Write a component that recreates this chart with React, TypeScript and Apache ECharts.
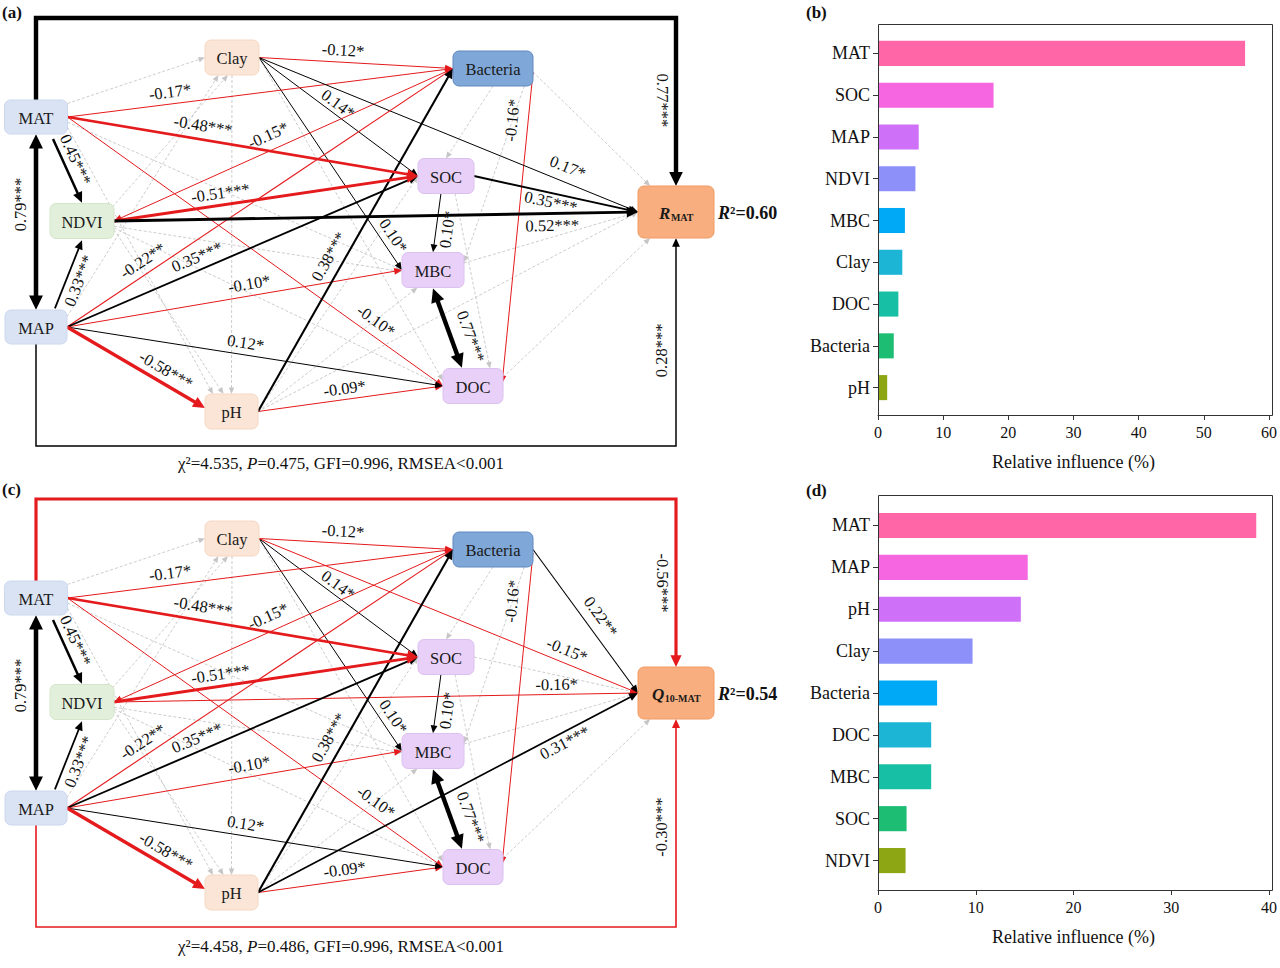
import React, { useEffect, useRef } from 'react';
import * as echarts from 'echarts';

const FONT = "'Times New Roman', 'Liberation Serif', 'DejaVu Serif', serif";

// ---------------- Relative influence (panels b, d) ----------------
const factorsB = ['MAT', 'SOC', 'MAP', 'NDVI', 'MBC', 'Clay', 'DOC', 'Bacteria', 'pH'];
const influenceB = [55.9, 17.6, 6.2, 5.7, 4.1, 3.7, 3.1, 2.4, 1.4];
const factorsD = ['MAT', 'MAP', 'pH', 'Clay', 'Bacteria', 'DOC', 'MBC', 'SOC', 'NDVI'];
const influenceD = [38.4, 15.2, 14.5, 9.6, 6.0, 5.4, 5.4, 2.9, 2.8];
const axisMaxB = 60;
const axisMaxD = 40;
const axisStep = 10;
const influenceAxisName = 'Relative influence (%)';

// ---------------- SEM path coefficients (panels a, c) ----------------
type Path = [string, string, number, string];
const sharedPaths: Path[] = [
  ['MAT', 'MAP', 0.79, '***'],
  ['MAT', 'NDVI', 0.45, '***'],
  ['MAP', 'NDVI', 0.33, '***'],
  ['Clay', 'Bacteria', -0.12, '*'],
  ['MAT', 'Bacteria', -0.17, '*'],
  ['MAT', 'SOC', -0.48, '***'],
  ['Bacteria', 'NDVI', -0.15, '*'],
  ['NDVI', 'SOC', -0.51, '***'],
  ['Clay', 'SOC', 0.14, '*'],
  ['Clay', 'MBC', 0.1, '*'],
  ['MAP', 'SOC', 0.35, '***'],
  ['MAP', 'Bacteria', -0.22, '**'],
  ['pH', 'Bacteria', 0.38, '***'],
  ['SOC', 'MBC', 0.1, '*'],
  ['Bacteria', 'DOC', -0.16, '*'],
  ['MAP', 'DOC', 0.12, '*'],
  ['MAP', 'MBC', -0.1, '*'],
  ['MAP', 'pH', -0.58, '***'],
  ['pH', 'DOC', -0.09, '*'],
  ['MAT', 'DOC', -0.1, '*'],
  ['MBC', 'DOC', 0.77, '***'],
];
const responsePathsA: Path[] = [
  ['MAT', 'RESP', 0.77, '***'],
  ['MAP', 'RESP', 0.28, '***'],
  ['Clay', 'RESP', 0.17, '*'],
  ['SOC', 'RESP', 0.35, '***'],
  ['NDVI', 'RESP', 0.52, '***'],
];
const responsePathsC: Path[] = [
  ['MAT', 'RESP', -0.56, '***'],
  ['MAP', 'RESP', -0.3, '***'],
  ['Clay', 'RESP', -0.15, '*'],
  ['NDVI', 'RESP', -0.16, '*'],
  ['pH', 'RESP', 0.31, '***'],
  ['Bacteria', 'RESP', 0.22, '**'],
];
const nsSharedPaths: [string, string][] = [
  ['MAT', 'Clay'], ['NDVI', 'Clay'], ['MAP', 'Clay'], ['Clay', 'pH'],
  ['MAT', 'pH'], ['NDVI', 'pH'], ['MAT', 'MBC'], ['NDVI', 'MBC'],
  ['NDVI', 'DOC'], ['Clay', 'DOC'], ['pH', 'SOC'], ['pH', 'MBC'],
  ['Bacteria', 'SOC'], ['Bacteria', 'MBC'], ['SOC', 'DOC'],
];
const nsResponseA = ['Bacteria', 'MBC', 'DOC', 'pH'];
const nsResponseC = ['SOC', 'MBC', 'DOC'];
const r2A = 0.6;
const r2C = 0.54;
const fitA = [4.535, 0.475, 0.996];
const fitC = [4.458, 0.486, 0.996];
const rmseaText = '<0.001';
const respSymbolA = ['R', 'MAT'];
const respSymbolC = ['Q', '10-MAT'];
const nodeIds = ['MAT', 'NDVI', 'MAP', 'Clay', 'pH', 'Bacteria', 'SOC', 'MBC', 'DOC', 'RESP'];

// ---------------- layout (diagram coordinates, one unit = 1px) ----------------
const nodeBox: Record<string, [number, number, number, number]> = {
  MAT: [36, 117, 63, 34],
  NDVI: [82, 221, 64, 35],
  MAP: [36, 327, 62, 34],
  Clay: [232, 57.5, 54, 35],
  pH: [231.5, 411.5, 53, 35],
  Bacteria: [493, 68.5, 80, 35],
  SOC: [446, 176, 56, 35],
  MBC: [433, 270, 62, 35],
  DOC: [473, 386, 60, 35],
  RESP: [676, 212, 76, 52],
};
const nodeFill: Record<string, [string, string]> = {
  MAT: ['#DAE3F3', '#CCD8EE'], MAP: ['#DAE3F3', '#CCD8EE'],
  NDVI: ['#E2EFDA', '#D4E6C9'],
  Clay: ['#FBE5D6', '#F6D7C2'], pH: ['#FBE5D6', '#F6D7C2'],
  Bacteria: ['#7FA7D7', '#6089BF'],
  SOC: ['#E9D0F8', '#DCC0F0'], MBC: ['#E9D0F8', '#DCC0F0'], DOC: ['#E9D0F8', '#DCC0F0'],
  RESP: ['#F8AE7E', '#F19A62'],
};
const anchors: Record<string, [number, number, number, number]> = {
  'MAT>MAP': [0, 1.02, 0, -1.02],
  'MAT>NDVI': [0.54, 1.3, 0, -1.05],
  'MAP>NDVI': [0.61, -1.1, 0, 1.1],
  'SOC>MBC': [-0.18, 1, 0, -1.02],
  'MBC>DOC': [0, 1.05, -0.37, -1.05],
  'Bacteria>DOC': [1, 0.2, 0.97, -0.15],
  'Bacteria>NDVI': [-1, 0, 1, 0],
  'MAP>pH': [1, 0, -1, -0.2],
  'Clay>pH': [0, 1, 0, -1],
  'Bacteria>SOC': [0, 1, 0, -1],
  'Bacteria>MBC': [0.78, 1, 1, -0.45],
  'SOC>DOC': [0.32, 1, 0.57, -1],
  'MBC>RESP': [1, -0.4, -1, 0],
  'DOC>RESP': [1, -0.5, -0.68, 1],
  'MAT>Clay': [1, -0.8, -1, 0],
  'NDVI>Clay': [0.95, -0.8, -0.15, 1],
  'MAP>Clay': [1, -0.6, -0.5, 1],
  'MAT>pH': [1, 0.6, -0.7, -1],
  'NDVI>pH': [1, 0.5, -0.3, -1],
  'pH>MBC': [1, 0, -0.5, 1],
  'MAT>MBC': [1, 0.3, -1, 0],
  'NDVI>MBC': [1, 0.3, -1, 0.1],
  'NDVI>DOC': [1, 0.4, -1, 0],
  'Clay>DOC': [1, 0, -1, -0.3],
};
const anchorsA: Record<string, [number, number, number, number]> = {
  'Bacteria>RESP': [1, 0.2, -0.68, -1],
};
const anchorsC: Record<string, [number, number, number, number]> = {};
const frameRoutes: Record<string, { y: number; side: 'top' | 'bottom' }> = {
  'MAT>RESP': { y: 18, side: 'top' },
  'MAP>RESP': { y: 446, side: 'bottom' },
};
const doubleHeaded = ['MAT>MAP', 'MBC>DOC'];
const labelPlace: Record<string, [number, number]> = {
  'MAT>MAP': [0.4, 16],
  'MAT>NDVI': [0.4, 12],
  'MAP>NDVI': [0.47, -12],
  'Clay>Bacteria': [0.43, 12],
  'MAT>Bacteria': [0.27, 12],
  'MAT>SOC': [0.38, 14],
  'Bacteria>NDVI': [0.527, 15],
  'NDVI>SOC': [0.356, 12],
  'Clay>SOC': [0.46, 10],
  'Clay>MBC': [0.87, 12],
  'MAP>SOC': [0.385, 13],
  'MAP>Bacteria': [0.215, 13],
  'pH>Bacteria': [0.43, 15],
  'SOC>MBC': [0.59, -11],
  'Bacteria>DOC': [0.16, 16],
  'MAP>DOC': [0.47, 12],
  'MAP>MBC': [0.55, 12],
  'MAP>pH': [0.67, 13],
  'pH>DOC': [0.476, 11],
  'MAT>DOC': [0.8, 14],
  'MBC>DOC': [0.69, 19],
};
const labelPlaceA: Record<string, [number, number]> = {
  'MAT>RESP': [0.49, 14],
  'MAP>RESP': [0.46, 15],
  'Clay>RESP': [0.8, 15],
  'SOC>RESP': [0.48, -9],
  'NDVI>RESP': [0.836, -12],
};
const labelPlaceC: Record<string, [number, number]> = {
  'MAT>RESP': [0.5, 14],
  'MAP>RESP': [0.48, 15],
  'Clay>RESP': [0.8, 13],
  'NDVI>RESP': [0.845, 10],
  'pH>RESP': [0.795, -10],
  'Bacteria>RESP': [0.53, 15],
};
const RED = '#E41A1C';
const BLACK = '#000000';
const GREY = '#C6C6C6';
const rankColors = ['#FF66A8', '#F666E0', '#CF70F8', '#8C90F8', '#00A9F6', '#1CB5D5', '#17BFA5', '#1DBE74', '#8DA614'];

type Edge = { from: string; to: string; coef: number | null; sig: string };

function buildEdges(resp: Path[], nsResp: string[]): Edge[] {
  const list: Edge[] = [];
  nsSharedPaths.forEach(([f, t]) => list.push({ from: f, to: t, coef: null, sig: '' }));
  nsResp.forEach((f) => list.push({ from: f, to: 'RESP', coef: null, sig: '' }));
  [...sharedPaths, ...resp].forEach(([f, t, c, s]) => list.push({ from: f, to: t, coef: c, sig: s }));
  const wOf = (e: Edge) => (e.coef === null ? 0 : Math.abs(e.coef));
  return list.sort((a, b) => wOf(a) - wOf(b));
}

const edgesA = buildEdges(responsePathsA, nsResponseA);
const edgesC = buildEdges(responsePathsC, nsResponseC);

function anchorPoint(id: string, fx: number, fy: number): [number, number] {
  const [cx, cy, w, h] = nodeBox[id];
  return [cx + (fx * w) / 2, cy + (fy * h) / 2];
}

function arrowHead(tip: number[], u: number[], L: number, W: number, color: string, z2: number) {
  const bx = tip[0] - u[0] * L;
  const by = tip[1] - u[1] * L;
  return {
    type: 'polygon',
    z2,
    shape: { points: [[tip[0], tip[1]], [bx - u[1] * W, by + u[0] * W], [bx + u[1] * W, by - u[0] * W]] },
    style: { fill: color },
  };
}

function unit(a: number[], b: number[]) {
  const dx = b[0] - a[0];
  const dy = b[1] - a[1];
  const l = Math.hypot(dx, dy) || 1;
  return [dx / l, dy / l];
}

function makeEdgeRender(edges: Edge[], anchorOverride: Record<string, [number, number, number, number]>, labels: Record<string, [number, number]>) {
  return (params: any, api: any) => {
    const e = edges[params.dataIndex];
    const key = e.from + '>' + e.to;
    const ns = e.coef === null;
    const color = ns ? GREY : (e.coef as number) < 0 ? RED : BLACK;
    const w = ns ? 0.9 : Math.max(1, 6 * Math.abs(e.coef as number) - 0.2);
    const z2 = ns ? 1 : 10 + w;
    const frame = frameRoutes[key];
    let pts: [number, number][];
    if (frame) {
      const a = nodeBox[e.from];
      const b = nodeBox[e.to];
      const sy = frame.side === 'top' ? a[1] - a[3] / 2 : a[1] + a[3] / 2;
      const ey = frame.side === 'top' ? b[1] - b[3] / 2 : b[1] + b[3] / 2;
      pts = [[a[0], sy], [a[0], frame.y], [b[0], frame.y], [b[0], ey]];
    } else {
      const an = anchorOverride[key] || anchors[key] || [1, 0, -1, 0];
      pts = [anchorPoint(e.from, an[0], an[1]), anchorPoint(e.to, an[2], an[3])];
    }
    const P: number[][] = pts.map((p) => api.coord(p));
    const n = P.length;
    const L = ns ? 6.5 : 6 + 1.8 * w;
    const W = ns ? 2.8 : 2.4 + 1.0 * w;
    const line = P.map((p) => [p[0], p[1]]);
    const children: any[] = [];
    const endDir = unit(P[n - 2], P[n - 1]);
    line[n - 1] = [P[n - 1][0] - endDir[0] * L * 0.7, P[n - 1][1] - endDir[1] * L * 0.7];
    children.push(arrowHead(P[n - 1], endDir, L, W, color, z2));
    if (doubleHeaded.indexOf(key) >= 0) {
      const sd = unit(P[1], P[0]);
      line[0] = [P[0][0] - sd[0] * L * 0.7, P[0][1] - sd[1] * L * 0.7];
      children.push(arrowHead(P[0], sd, L, W, color, z2));
    }
    children.push({
      type: 'polyline',
      z2,
      shape: { points: line },
      style: { stroke: color, lineWidth: w, fill: 'none', lineDash: ns ? [3, 2] : null, lineJoin: 'miter' },
    });
    if (!ns) {
      const lp = labels[key] || [0.5, 12];
      let lx: number;
      let ly: number;
      let rot: number;
      if (frame) {
        const a = P[n - 2];
        const b = P[n - 1];
        lx = a[0] - lp[1];
        ly = a[1] + (b[1] - a[1]) * lp[0];
        rot = frame.side === 'top' ? -Math.PI / 2 : Math.PI / 2;
      } else {
        const a = P[0];
        const b = P[1];
        const dx = b[0] - a[0];
        const dy = b[1] - a[1];
        const len = Math.hypot(dx, dy) || 1;
        let ux = dx / len;
        let uy = dy / len;
        const mx = a[0] + dx * lp[0];
        const my = a[1] + dy * lp[0];
        if (ux < -1e-6 || (Math.abs(ux) <= 1e-6 && uy > 0)) {
          ux = -ux;
          uy = -uy;
        }
        lx = mx + uy * lp[1];
        ly = my - ux * lp[1];
        rot = -Math.atan2(uy, ux);
      }
      children.push({
        type: 'text',
        z2: 300,
        x: lx,
        y: ly,
        rotation: rot,
        style: {
          text: (e.coef as number).toFixed(2) + e.sig,
          fontSize: 16.5,
          fontFamily: FONT,
          fill: '#111111',
          align: 'center',
          verticalAlign: 'middle',
        },
      });
    }
    return { type: 'group', children };
  };
}

let measureCtx: CanvasRenderingContext2D | null = null;
function measure(text: string, font: string) {
  if (!measureCtx) measureCtx = document.createElement('canvas').getContext('2d');
  if (!measureCtx) return text.length * 8;
  measureCtx.font = font;
  return measureCtx.measureText(text).width;
}

function makeNodeRender(sym: string[], r2: number) {
  return (params: any, api: any) => {
    const id = nodeIds[params.dataIndex];
    const [cx, cy, w, h] = nodeBox[id];
    const tl = api.coord([cx - w / 2, cy - h / 2]);
    const br = api.coord([cx + w / 2, cy + h / 2]);
    const c = api.coord([cx, cy]);
    const [fill, stroke] = nodeFill[id];
    const children: any[] = [
      {
        type: 'rect',
        shape: { x: tl[0], y: tl[1], width: br[0] - tl[0], height: br[1] - tl[1], r: 6 },
        style: { fill, stroke, lineWidth: 1 },
      },
    ];
    if (id === 'RESP') {
      const mainFont = `italic bold 17px ${FONT}`;
      const subFont = `bold 10px ${FONT}`;
      const wm = measure(sym[0], mainFont);
      const ws = measure(sym[1], subFont);
      const sx = c[0] - (wm + ws) / 2;
      children.push({
        type: 'text', x: sx, y: c[1] + 1,
        style: { text: sym[0], fontSize: 17, fontStyle: 'italic', fontWeight: 'bold', fontFamily: FONT, fill: '#1a1a1a', align: 'left', verticalAlign: 'middle' },
      });
      children.push({
        type: 'text', x: sx + wm + 0.5, y: c[1] + 5,
        style: { text: sym[1], fontSize: 10, fontWeight: 'bold', fontFamily: FONT, fill: '#1a1a1a', align: 'left', verticalAlign: 'middle' },
      });
      children.push({
        type: 'text', x: br[0] + 4, y: c[1] + 1,
        style: {
          text: '{i|R}{b|²=' + r2.toFixed(2) + '}',
          align: 'left',
          verticalAlign: 'middle',
          rich: {
            i: { fontSize: 18, fontStyle: 'italic', fontWeight: 'bold', fontFamily: FONT, fill: '#111' },
            b: { fontSize: 18, fontWeight: 'bold', fontFamily: FONT, fill: '#111' },
          },
        },
      });
    } else {
      children.push({
        type: 'text', x: c[0], y: c[1] + 1,
        style: { text: id, fontSize: 16.5, fontFamily: FONT, fill: '#1a1a1a', align: 'center', verticalAlign: 'middle' },
      });
    }
    return { type: 'group', children };
  };
}

function fitText(f: number[]) {
  return '{n|χ²=' + f[0].toFixed(3) + ', }{i|P}{n|=' + f[1].toFixed(3) + ', GFI=' + f[2].toFixed(3) + ', RMSEA' + rmseaText + '}';
}

function fitGraphic(f: number[], y: number) {
  return {
    type: 'text',
    x: 341,
    y,
    style: {
      text: fitText(f),
      align: 'center',
      verticalAlign: 'middle',
      rich: {
        n: { fontSize: 17, fontFamily: FONT, fill: '#111' },
        i: { fontSize: 17, fontFamily: FONT, fontStyle: 'italic', fill: '#111' },
      },
    },
  };
}

function panelLetter(t: string, x: number, y: number) {
  return { type: 'text', x, y, style: { text: t, fontSize: 17, fontWeight: 'bold', fontFamily: FONT, fill: '#111' } };
}

// plot frames of the bar panels [left, top, width, height]
const frameB = [878, 24, 394, 391];
const frameD = [878, 495, 394, 395];

function plotFrame(f: number[]) {
  return {
    type: 'rect',
    z: 50,
    silent: true,
    shape: { x: f[0] + 0.5, y: f[1] + 0.5, width: f[2], height: f[3] },
    style: { fill: 'rgba(0,0,0,0)', stroke: '#333333', lineWidth: 1 },
  };
}

function barAxes(f: number[], gridFrame: number, max: number, cats: string[]) {
  const frameX = {
    gridIndex: gridFrame, type: 'value', position: 'bottom', min: 0, max, interval: axisStep,
    axisLine: { show: true, onZero: false, lineStyle: { color: '#333', width: 1 } },
    axisTick: { show: true, length: 5, lineStyle: { color: '#333' } },
    axisLabel: { fontSize: 16, color: '#111', fontFamily: FONT, margin: 9 },
    splitLine: { show: false },
    name: influenceAxisName, nameLocation: 'middle', nameGap: 38,
    nameTextStyle: { fontSize: 18, color: '#111', fontFamily: FONT },
  };
  const frameY = { gridIndex: gridFrame, type: 'value', min: 0, max: 1, show: false };
  const barX = { gridIndex: gridFrame + 1, type: 'value', min: 0, max, show: false };
  const barY = {
    gridIndex: gridFrame + 1, type: 'category', data: cats, inverse: true,
    axisLine: { show: false },
    axisTick: { show: true, alignWithLabel: true, length: 5, lineStyle: { color: '#333' } },
    axisLabel: { fontSize: 18, color: '#111', fontFamily: FONT, margin: 8 },
  };
  return { frameX, frameY, barX, barY };
}

export default function App() {
  const ref = useRef<HTMLDivElement>(null);
  useEffect(() => {
    if (!ref.current) return;
    const chart = echarts.init(ref.current, undefined, { renderer: 'svg' });
    const b = barAxes(frameB, 2, axisMaxB, factorsB);
    const d = barAxes(frameD, 4, axisMaxD, factorsD);
    const option: any = {
      animation: false,
      textStyle: { fontFamily: FONT },
      grid: [
        { left: 0, top: 0, width: 790, height: 481 },
        { left: 0, top: 481, width: 790, height: 481 },
        { left: frameB[0], top: frameB[1], width: frameB[2], height: frameB[3] },
        { left: frameB[0], top: 32.5, width: frameB[2], height: 376 },
        { left: frameD[0], top: frameD[1], width: frameD[2], height: frameD[3] },
        { left: frameD[0], top: 504.5, width: frameD[2], height: 377 },
      ],
      xAxis: [
        { gridIndex: 0, type: 'value', min: 0, max: 790, show: false },
        { gridIndex: 1, type: 'value', min: 0, max: 790, show: false },
        b.frameX, b.barX, d.frameX, d.barX,
      ],
      yAxis: [
        { gridIndex: 0, type: 'value', min: 0, max: 481, inverse: true, show: false },
        { gridIndex: 1, type: 'value', min: 0, max: 481, inverse: true, show: false },
        b.frameY, b.barY, d.frameY, d.barY,
      ],
      graphic: [
        panelLetter('(a)', 2, 4),
        panelLetter('(c)', 2, 481),
        panelLetter('(b)', 806, 4),
        panelLetter('(d)', 806, 482),
        fitGraphic(fitA, 463),
        fitGraphic(fitC, 946),
        plotFrame(frameB),
        plotFrame(frameD),
      ],
      series: [
        {
          type: 'custom', xAxisIndex: 0, yAxisIndex: 0, z: 2, silent: true, clip: false,
          renderItem: makeEdgeRender(edgesA, anchorsA, { ...labelPlace, ...labelPlaceA }),
          data: edgesA.map((_, i) => [i, 0]),
        },
        {
          type: 'custom', xAxisIndex: 0, yAxisIndex: 0, z: 3, silent: true, clip: false,
          renderItem: makeNodeRender(respSymbolA, r2A),
          data: nodeIds.map((_, i) => [i, 0]),
        },
        {
          type: 'custom', xAxisIndex: 1, yAxisIndex: 1, z: 2, silent: true, clip: false,
          renderItem: makeEdgeRender(edgesC, anchorsC, { ...labelPlace, ...labelPlaceC }),
          data: edgesC.map((_, i) => [i, 0]),
        },
        {
          type: 'custom', xAxisIndex: 1, yAxisIndex: 1, z: 3, silent: true, clip: false,
          renderItem: makeNodeRender(respSymbolC, r2C),
          data: nodeIds.map((_, i) => [i, 0]),
        },
        {
          type: 'bar', xAxisIndex: 3, yAxisIndex: 3, barWidth: '60%',
          data: influenceB.map((v, i) => ({ value: v, itemStyle: { color: rankColors[i] } })),
        },
        {
          type: 'bar', xAxisIndex: 5, yAxisIndex: 5, barWidth: '60%',
          data: influenceD.map((v, i) => ({ value: v, itemStyle: { color: rankColors[i] } })),
        },
      ],
    };
    chart.setOption(option);
    return () => chart.dispose();
  }, []);
  return (
    <div
      ref={ref}
      style={{ position: 'absolute', left: 0, top: 0, width: 1280, height: 968, background: '#fff' }}
    />
  );
}
